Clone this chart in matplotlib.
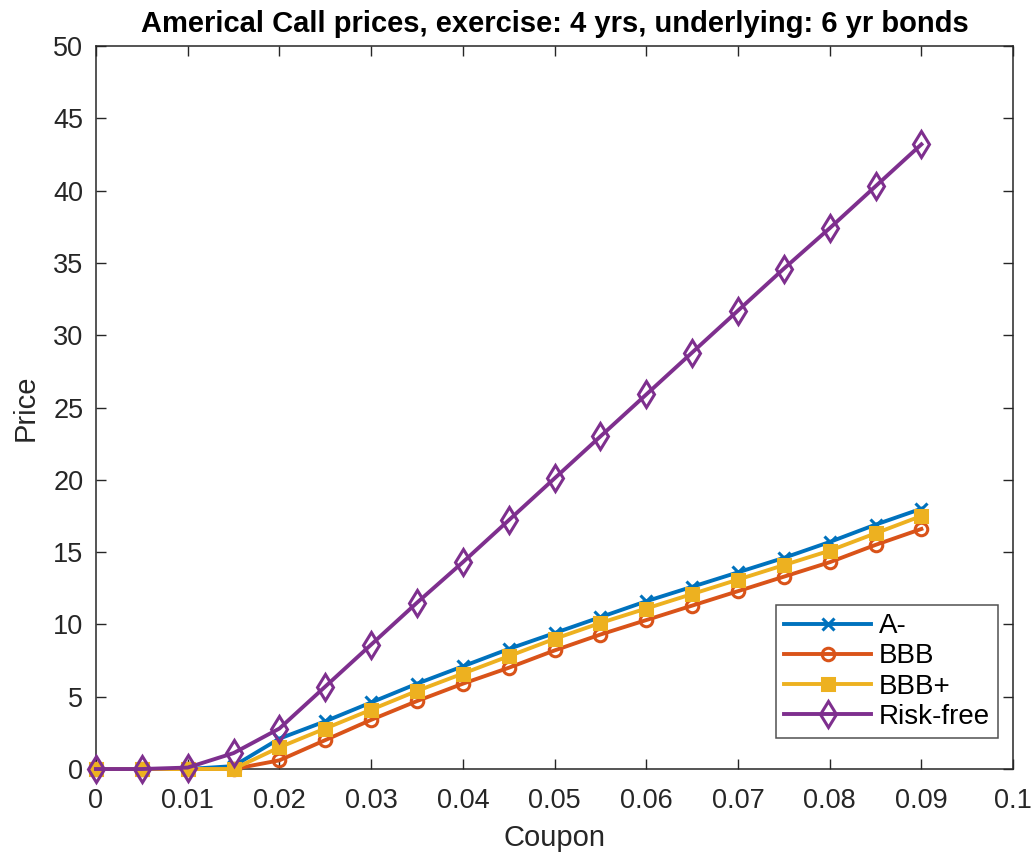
import numpy as np
import matplotlib.pyplot as plt

plt.rcParams['font.family'] = ['Liberation Sans', 'DejaVu Sans']

# Coupon rates and option prices per rating class
coupon = np.round(np.arange(0, 0.0901, 0.005), 3)
price_a_minus = [0, 0, 0, 0.2, 2.1, 3.3, 4.6, 5.9, 7.1, 8.3, 9.4, 10.5, 11.6, 12.6, 13.6, 14.6, 15.7, 16.9, 18.0]
price_bbb = [0, 0, 0, 0, 0.6, 2.0, 3.4, 4.7, 5.9, 7.0, 8.2, 9.3, 10.3, 11.3, 12.3, 13.3, 14.3, 15.5, 16.6]
price_bbb_plus = [0, 0, 0, 0, 1.5, 2.8, 4.1, 5.4, 6.6, 7.8, 9.0, 10.1, 11.1, 12.1, 13.1, 14.1, 15.1, 16.3, 17.5]
price_risk_free = [0, 0, 0.1, 1.1, 2.8, 5.7, 8.6, 11.5, 14.3, 17.2, 20.1, 23.0, 25.9, 28.8, 31.7, 34.6, 37.4, 40.3, 43.2]

labels = ['A-', 'BBB', 'BBB+', 'Risk-free']
colors = ['#0072BD', '#D95319', '#EDB120', '#7E2F8E']


def main():
    fig = plt.figure(figsize=(10.34, 8.52), dpi=100)
    ax = fig.add_axes([0.0928, 0.0974, 0.887, 0.8486])

    series = [price_a_minus, price_bbb, price_bbb_plus, price_risk_free]
    markers = ['x', 'o', 's', 'd']
    sizes = [8, 9, 8, 13]
    for values, label, color, marker, size in zip(series, labels, colors, markers, sizes):
        face = color if marker == 's' else 'none'
        ax.plot(coupon, values, color=color, linewidth=2.8, marker=marker,
                markersize=size, markeredgewidth=2.2, markerfacecolor=face,
                label=label, clip_on=False, zorder=3)

    ax.set_xlim(0, 0.1)
    ax.set_ylim(0, 50)
    ax.set_xticks(np.arange(0, 0.101, 0.01))
    ax.set_xticklabels(['0', '0.01', '0.02', '0.03', '0.04', '0.05',
                        '0.06', '0.07', '0.08', '0.09', '0.1'])
    ax.set_yticks(np.arange(0, 51, 5))

    ax.tick_params(direction='in', top=True, right=True, length=7,
                   width=1, labelsize=19.5, colors='#262626')
    ax.tick_params(axis='x', pad=14)
    ax.tick_params(axis='y', pad=9)
    for spine in ax.spines.values():
        spine.set_color('#262626')
        spine.set_linewidth(1.1)

    ax.set_xlabel('Coupon', fontsize=21, color='#262626', labelpad=7)
    ax.set_ylabel('Price', fontsize=21, color='#262626', labelpad=10)
    ax.set_title('Americal Call prices, exercise: 4 yrs, underlying: 6 yr bonds',
                 fontsize=21, fontweight='bold', pad=10)

    leg = ax.legend(loc='lower right', bbox_to_anchor=(0.99, 0.035),
                    fontsize=20, handlelength=3.1, frameon=True,
                    fancybox=False, borderpad=0.3, labelspacing=0.15,
                    handletextpad=0.3, borderaxespad=0.2)
    leg.get_frame().set_edgecolor('#262626')
    leg.get_frame().set_linewidth(1.1)
    leg.set_zorder(5)

    fig.savefig('out.png', dpi=100)


if __name__ == "__main__":
    main()
